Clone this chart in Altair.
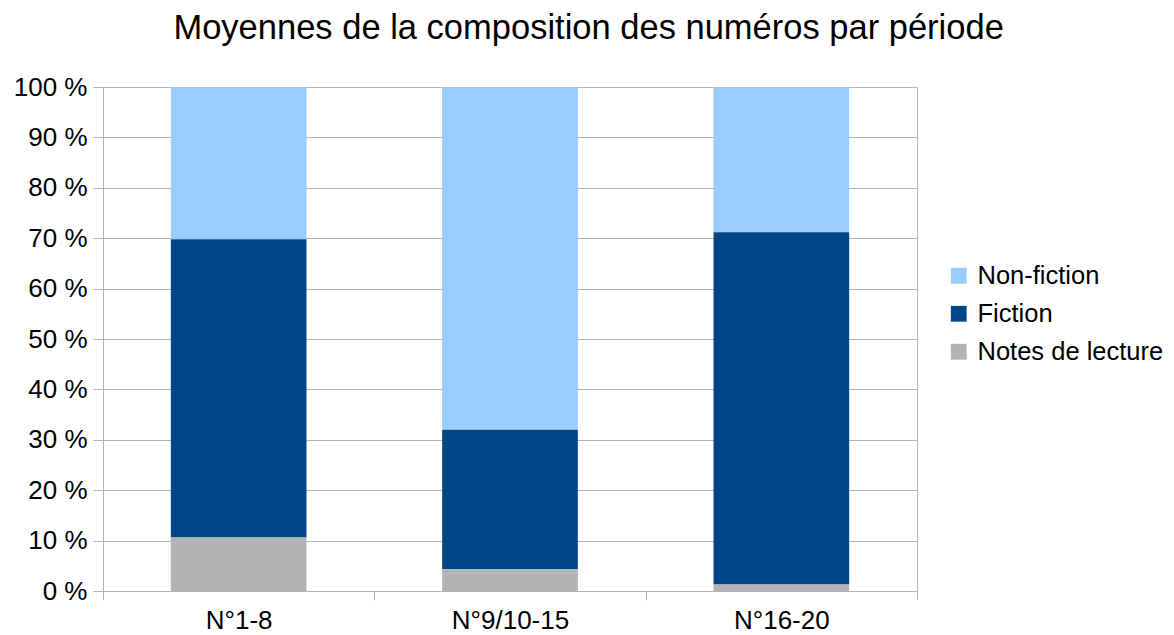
import altair as alt
import pandas as pd

periods = ["N°1-8", "N°9/10-15", "N°16-20"]
series = ["Non-fiction", "Fiction", "Notes de lecture"]
notes = [10.6, 4.3, 1.3]
fiction = [59.2, 27.7, 69.9]
nonfiction = [30.2, 68.0, 28.8]
colors = ["#99CCFF", "#004586", "#B3B3B3"]
stack_order = {"Notes de lecture": 0, "Fiction": 1, "Non-fiction": 2}

rows = []
for i, p in enumerate(periods):
    for s, vals in zip(series, [nonfiction, fiction, notes]):
        rows.append({"period": p, "series": s, "value": vals[i], "ord": stack_order[s]})
df = pd.DataFrame(rows)

FONT = "Liberation Sans"
GRID = "#b3b3b3"

chart = alt.Chart(df).mark_bar(width=alt.RelativeBandSize(0.5)).encode(
    x=alt.X("period:N", sort=periods, title=None,
            scale=alt.Scale(paddingInner=0, paddingOuter=0),
            axis=alt.Axis(labelAngle=0, tickBand="extent", tickSize=9, tickColor=GRID,
                          domainColor=GRID, labelFontSize=26, labelFont=FONT,
                          labelColor="#000000", labelPadding=7)),
    y=alt.Y("value:Q", stack="zero", title=None,
            scale=alt.Scale(domain=[0, 100], nice=False),
            axis=alt.Axis(values=list(range(0, 101, 10)), labelExpr="datum.value + ' %'",
                          tickSize=10, tickColor=GRID, gridColor=GRID, domainColor=GRID,
                          labelFontSize=26, labelFont=FONT, labelColor="#000000",
                          labelPadding=6)),
    color=alt.Color("series:N", sort=series,
                    scale=alt.Scale(domain=series, range=colors),
                    legend=alt.Legend(title=None, orient="none", legendX=843, legendY=176,
                                      symbolType="square", symbolSize=250,
                                      symbolStrokeWidth=0, labelFontSize=25.5,
                                      labelFont=FONT, labelColor="#000000", labelLimit=400,
                                      rowPadding=11, padding=0, labelOffset=6)),
    order=alt.Order("ord:Q", sort="ascending"),
).properties(
    width=814,
    height=504,
    title=alt.TitleParams("Moyennes de la composition des numéros par période",
                          fontSize=34.5, font=FONT, fontWeight="normal", color="#000000",
                          anchor="middle", frame="bounds", offset=28),
    autosize=alt.AutoSizeParams(type="none"),
    padding={"left": 95, "top": 79, "right": 249, "bottom": 40},
).configure_view(stroke=GRID, strokeWidth=1).configure_axis(gridWidth=1)

chart.save("out.html", embed_options={"renderer": "svg", "actions": False})
